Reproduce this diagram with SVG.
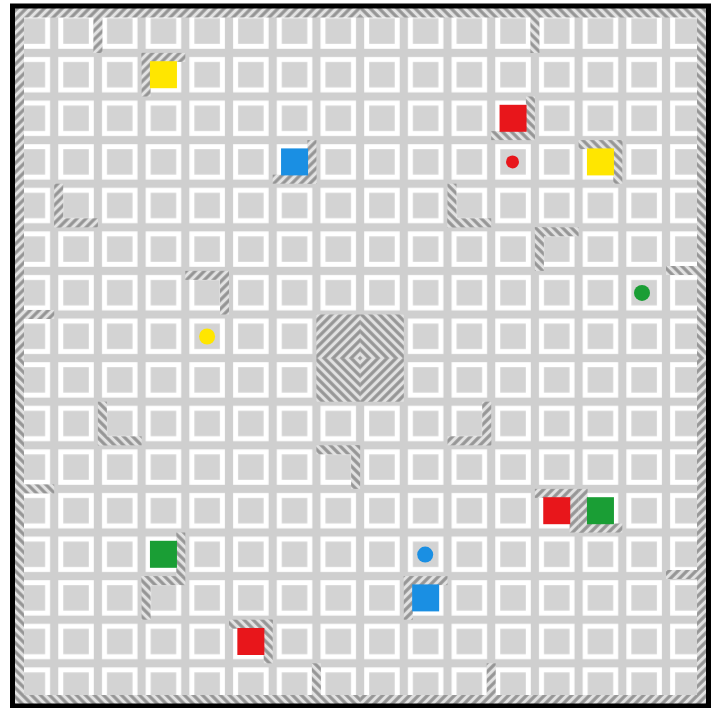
<svg xmlns="http://www.w3.org/2000/svg" width="718" height="708" viewBox="0 0 718 708">
  <style>
    .robot { stroke: none; }
    .y { fill: #FFE600; }
    .r { fill: #E8161B; }
    .b { fill: #1A8FE3; }
    .g { fill: #1A9E35; }
  </style>
  <defs>
    <pattern id="cell" patternUnits="userSpaceOnUse" x="10.5" y="9.3" width="43.7" height="43.6">
      <rect width="43.7" height="43.6" fill="#cfcfcf"/>
      <rect x="6.6" y="6.6" width="30.5" height="30.4" fill="#d3d3d3" stroke="#ffffff" stroke-width="5"/>
    </pattern>
    <pattern id="hA" patternUnits="userSpaceOnUse" width="6.36" height="6.36" patternTransform="translate(360.1 358.1) rotate(-45)">
      <rect width="6.36" height="6.36" fill="#e2e2e2"/>
      <rect width="6.36" height="1.59" fill="#959595"/>
      <rect y="4.77" width="6.36" height="1.59" fill="#959595"/>
    </pattern>
    <pattern id="hB" patternUnits="userSpaceOnUse" width="6.36" height="6.36" patternTransform="translate(360.1 358.1) rotate(45)">
      <rect width="6.36" height="6.36" fill="#e2e2e2"/>
      <rect width="6.36" height="1.59" fill="#959595"/>
      <rect y="4.77" width="6.36" height="1.59" fill="#959595"/>
    </pattern>
    <clipPath id="wallClip">
      <!-- outer border walls -->
      <rect x="10" y="4" width="14" height="704"/>
      <rect x="10" y="4" width="701" height="13.5"/>
      <rect x="697" y="4" width="14" height="704"/>
      <rect x="10" y="695" width="701" height="13"/>
      <!-- centre block -->
      <rect x="316.4" y="314.5" width="87.4" height="87.2"/>
      <!-- edge walls -->
      <rect x="93.4" y="8" width="9" height="45"/>
      <rect x="530.4" y="8" width="9" height="45"/>
      <rect x="10" y="310" width="44.2" height="9"/>
      <rect x="10" y="484.4" width="44.2" height="9"/>
      <rect x="666" y="266" width="44" height="9"/>
      <rect x="666" y="570" width="44" height="9"/>
      <rect x="311.9" y="663.3" width="9" height="44"/>
      <rect x="486.7" y="663.3" width="9" height="44"/>
      <!-- cell walls -->
      <rect x="141.6" y="52.9" width="43.7" height="9"/>
      <rect x="141.6" y="52.9" width="9" height="43.6"/>
      <rect x="525.9" y="96.5" width="9" height="43.6"/>
      <rect x="491.2" y="131.1" width="43.7" height="9"/>
      <rect x="307.4" y="140.1" width="9" height="43.6"/>
      <rect x="272.7" y="174.7" width="43.7" height="9"/>
      <rect x="578.6" y="140.1" width="43.7" height="9"/>
      <rect x="613.3" y="140.1" width="9" height="43.6"/>
      <rect x="54.2" y="183.7" width="9" height="43.6"/>
      <rect x="54.2" y="218.3" width="43.7" height="9"/>
      <rect x="447.5" y="183.7" width="9" height="43.6"/>
      <rect x="447.5" y="218.3" width="43.7" height="9"/>
      <rect x="534.9" y="227.3" width="43.7" height="9"/>
      <rect x="534.9" y="227.3" width="9" height="43.6"/>
      <rect x="185.3" y="270.9" width="43.7" height="9"/>
      <rect x="220" y="270.9" width="9" height="43.6"/>
      <rect x="97.9" y="401.7" width="9" height="43.6"/>
      <rect x="97.9" y="436.3" width="43.7" height="9"/>
      <rect x="482.2" y="401.7" width="9" height="43.6"/>
      <rect x="447.5" y="436.3" width="43.7" height="9"/>
      <rect x="316.4" y="445.3" width="43.7" height="9"/>
      <rect x="351.1" y="445.3" width="9" height="43.6"/>
      <rect x="534.9" y="488.9" width="43.7" height="9"/>
      <rect x="569.6" y="488.9" width="9" height="43.6"/>
      <rect x="578.6" y="488.9" width="9" height="43.6"/>
      <rect x="578.6" y="523.5" width="43.7" height="9"/>
      <rect x="176.3" y="532.5" width="9" height="43.6"/>
      <rect x="141.6" y="576.1" width="43.7" height="9"/>
      <rect x="141.6" y="576.1" width="9" height="43.6"/>
      <rect x="403.8" y="576.1" width="43.7" height="9"/>
      <rect x="403.8" y="576.1" width="9" height="43.6"/>
      <rect x="229" y="619.7" width="43.7" height="9"/>
      <rect x="263.7" y="619.7" width="9" height="43.6"/>
    </clipPath>
  </defs>

  <rect width="718" height="708" fill="#ffffff"/>

  <g id="board">
    <rect x="10" y="4" width="701" height="704" fill="url(#cell)"/>
  </g>

  <g id="walls" clip-path="url(#wallClip)">
    <rect x="0" y="0" width="360.1" height="358.1" fill="url(#hA)"/>
    <rect x="360.1" y="0" width="357.9" height="358.1" fill="url(#hB)"/>
    <rect x="0" y="358.1" width="360.1" height="349.9" fill="url(#hB)"/>
    <rect x="360.1" y="358.1" width="357.9" height="349.9" fill="url(#hA)"/>
  </g>

  <g id="squares">
    <rect class="robot y" x="149.95" y="61.2" width="27" height="27"/>
    <rect class="robot r" x="499.55" y="104.8" width="27" height="27"/>
    <rect class="robot b" x="281.05" y="148.4" width="27" height="27"/>
    <rect class="robot y" x="586.95" y="148.4" width="27" height="27"/>
    <rect class="robot r" x="543.25" y="497.2" width="27" height="27"/>
    <rect class="robot g" x="586.95" y="497.2" width="27" height="27"/>
    <rect class="robot g" x="149.95" y="540.8" width="27" height="27"/>
    <rect class="robot b" x="412.15" y="584.4" width="27" height="27"/>
    <rect class="robot r" x="237.35" y="628" width="27" height="27"/>
  </g>

  <g id="dots">
    <circle class="r" cx="512.5" cy="161.9" r="6.5"/>
    <circle class="g" cx="642" cy="292.9" r="8"/>
    <circle class="y" cx="207.1" cy="336.5" r="8"/>
    <circle class="b" cx="425.2" cy="554.6" r="8"/>
  </g>

  <rect id="frame" x="12.5" y="6" width="696" height="700" fill="none" stroke="#000000" stroke-width="5"/>
</svg>
